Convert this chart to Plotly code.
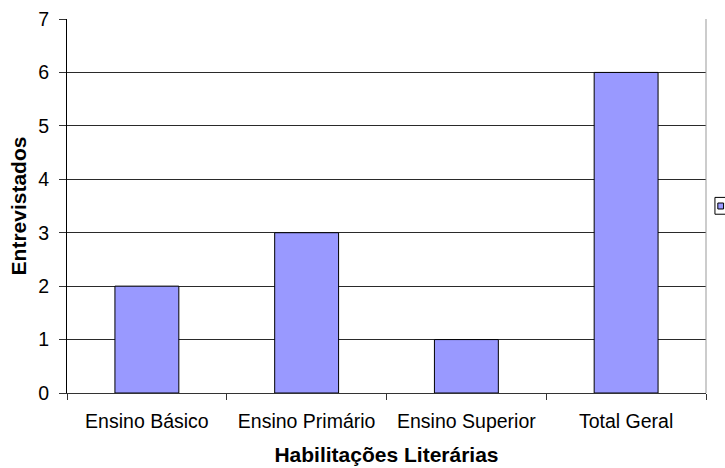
import plotly.graph_objects as go

# Respondents by educational attainment
categorias = ["Ensino Básico", "Ensino Primário", "Ensino Superior", "Total Geral"]
entrevistados = [2, 3, 1, 6]
marcas_y = [0, 1, 2, 3, 4, 5, 6, 7]

FONT = "Liberation Sans, Arial, sans-serif"
BAR_COLOR = "#9999FF"
TICK_SIZE = 19.5
TITLE_SIZE = 21

fig = go.Figure()
fig.add_trace(go.Bar(
    x=categorias,
    y=entrevistados,
    marker=dict(color=BAR_COLOR, line=dict(color="#000000", width=1)),
    showlegend=False,
    hoverinfo="x+y",
))

fig.update_layout(
    width=725,
    height=468,
    margin=dict(l=67, r=19, t=19, b=75, autoexpand=False),
    paper_bgcolor="white",
    plot_bgcolor="white",
    bargap=0.6,
    font=dict(family=FONT, size=TICK_SIZE, color="#000000"),
    xaxis=dict(
        type="category",
        showline=True,
        linecolor="#333333",
        linewidth=1,
        ticks="outside",
        tickson="boundaries",
        ticklen=6,
        tickcolor="#333333",
        showgrid=False,
        tickfont=dict(family=FONT, size=TICK_SIZE),
        ticklabelstandoff=11,
        title=dict(text="<b>Habilitações Literárias</b>",
                   font=dict(family=FONT, size=TITLE_SIZE), standoff=15),
    ),
    yaxis=dict(
        range=[0, 7],
        tickvals=marcas_y,
        showline=True,
        linecolor="#000000",
        linewidth=1,
        ticks="outside",
        ticklen=7,
        tickcolor="#333333",
        showgrid=True,
        gridcolor="#2a2a2a",
        gridwidth=1,
        zeroline=False,
        tickfont=dict(family=FONT, size=TICK_SIZE),
        ticklabelstandoff=6,
        title=dict(text="<b>Entrevistados</b>",
                   font=dict(family=FONT, size=TITLE_SIZE), standoff=5),
    ),
    shapes=[
        # grey right edge of the plot area
        dict(type="line", xref="paper", yref="paper", x0=1, x1=1, y0=0, y1=1,
             line=dict(color="#999999", width=1)),
        # legend frame and key
        dict(type="rect", xref="paper", yref="paper",
             x0=1.014, x1=1.04, y0=0.478, y1=0.523,
             line=dict(color="#000000", width=1), fillcolor="white"),
        dict(type="rect", xref="paper", yref="paper",
             x0=1.0185, x1=1.0275, y0=0.492, y1=0.508,
             line=dict(color="#000000", width=1), fillcolor=BAR_COLOR),
    ],
)

fig.write_html("out.html")
